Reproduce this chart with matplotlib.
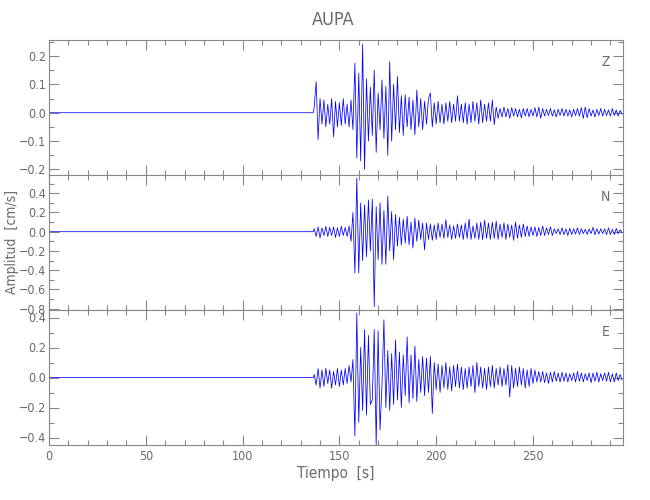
import numpy as np
import matplotlib.pyplot as plt
from matplotlib.ticker import MultipleLocator

# station / components
station = "AUPA"
components = ["Z", "N", "E"]

# quiet part before the first arrival (s)
t_onset = 137
t_end = 296

# amplitudes (cm/s) read at 1 s steps from 137 s to 296 s
z_amp = [
    0.02, 0.11, -0.095, 0.05, -0.04, 0.045, -0.05, 0.03, -0.04, 0.05,
    -0.086, 0.04, -0.05, 0.035, -0.045, 0.05, -0.04, 0.03, -0.05, 0.045,
    -0.06, 0.175, -0.16, 0.14, -0.17, 0.242, -0.2, 0.12, -0.1, 0.09,
    -0.08, 0.15, -0.14, 0.07, -0.06, 0.116, -0.09, 0.093, -0.15, 0.18,
    -0.1, 0.1, -0.06, 0.128, -0.07, 0.06, -0.08, 0.064, -0.05, 0.055,
    -0.06, 0.045, -0.078, 0.08, -0.05, 0.05, -0.06, 0.04, -0.04, 0.05,
    0.07, -0.05, 0.035, -0.04, 0.04, -0.035, 0.03, -0.04, 0.035, -0.03,
    0.04, -0.035, 0.03, -0.03, 0.06, -0.03, 0.03, -0.035, 0.035, -0.04,
    0.03, -0.035, 0.04, -0.03, 0.035, -0.04, 0.045, -0.035, 0.03, -0.03,
    0.035, -0.03, 0.045, -0.042, 0.02, -0.02, 0.015, -0.015, 0.02, -0.015,
    0.015, -0.02, 0.018, -0.012, 0.015, -0.015, 0.012, -0.018, 0.015, -0.012,
    0.015, -0.015, 0.012, -0.012, 0.018, -0.015, 0.02, -0.02, 0.015, -0.012,
    0.012, -0.01, 0.015, -0.012, 0.01, -0.015, 0.012, -0.01, 0.015, -0.012,
    0.012, -0.012, 0.01, -0.015, 0.012, -0.01, 0.015, -0.012, 0.018, -0.02,
    0.02, -0.018, 0.015, -0.012, 0.01, -0.015, 0.012, -0.01, 0.015, -0.012,
    0.012, -0.01, 0.01, -0.012, 0.015, -0.01, 0.01, -0.012, 0.008, -0.005,
]
n_amp = [
    0.03, -0.05, 0.05, -0.066, 0.04, -0.04, 0.056, -0.05, 0.045, -0.04,
    0.05, -0.06, 0.04, -0.05, 0.056, -0.04, 0.045, -0.05, 0.06, -0.1,
    0.2, -0.43, 0.56, -0.43, 0.3, -0.3, 0.28, -0.26, 0.33, -0.2,
    0.34, -0.78, 0.26, -0.29, 0.3, -0.34, 0.22, -0.34, 0.37, -0.2,
    0.21, -0.29, 0.18, -0.15, 0.15, -0.14, 0.13, -0.12, 0.16, -0.135,
    0.1, -0.17, 0.14, -0.1, 0.12, -0.08, 0.09, -0.19, 0.09, -0.08,
    0.08, -0.09, 0.07, -0.08, 0.09, -0.06, 0.08, -0.07, 0.125, -0.06,
    0.07, -0.08, 0.06, -0.07, 0.08, -0.06, 0.07, -0.08, 0.09, -0.07,
    0.13, -0.08, 0.06, -0.07, 0.09, -0.08, 0.1, -0.083, 0.12, -0.07,
    0.09, -0.08, 0.1, -0.07, 0.11, -0.08, 0.08, -0.06, 0.09, -0.08,
    0.08, -0.06, 0.07, -0.09, 0.1, -0.07, 0.07, -0.06, 0.08, -0.05,
    0.06, -0.05, 0.05, -0.04, 0.05, -0.05, 0.045, -0.04, 0.06, -0.04,
    0.04, -0.03, 0.05, -0.04, 0.03, -0.02, 0.03, -0.03, 0.04, -0.03,
    0.03, -0.04, 0.035, -0.03, 0.03, -0.025, 0.04, -0.03, 0.03, -0.02,
    0.025, -0.03, 0.03, -0.02, 0.045, -0.03, 0.03, -0.025, 0.03, -0.02,
    0.03, -0.03, 0.04, -0.03, 0.025, -0.03, 0.035, -0.02, 0.02, -0.01,
]
e_amp = [
    0.02, -0.05, 0.06, -0.07, 0.05, -0.06, 0.062, -0.04, 0.05, -0.071,
    0.04, -0.05, 0.06, -0.06, 0.05, -0.05, 0.06, -0.04, 0.08, -0.03,
    0.12, -0.39, 0.43, -0.3, 0.2, -0.22, 0.32, -0.25, 0.28, -0.18,
    -0.15, 0.32, -0.45, 0.31, -0.35, -0.05, 0.385, -0.2, 0.18, -0.22,
    0.16, -0.18, 0.25, -0.15, 0.17, -0.2, 0.15, -0.12, 0.27, -0.17,
    0.15, -0.14, 0.21, -0.16, 0.12, -0.1, 0.14, -0.12, 0.13, -0.1,
    0.14, -0.24, 0.1, -0.08, 0.09, -0.1, 0.08, -0.07, 0.1, -0.08,
    0.07, -0.09, 0.08, -0.06, 0.09, -0.07, 0.07, -0.08, 0.06, -0.07,
    0.07, -0.06, 0.08, -0.1, 0.1, -0.06, 0.07, -0.07, 0.06, -0.08,
    0.07, -0.06, 0.08, -0.07, 0.06, -0.05, 0.07, -0.06, 0.06, -0.05,
    0.085, -0.13, 0.08, -0.07, 0.06, -0.06, 0.07, -0.05, 0.06, -0.07,
    0.05, -0.06, 0.06, -0.04, 0.05, -0.03, 0.04, -0.03, 0.04, -0.035,
    0.03, -0.04, 0.035, -0.03, 0.04, -0.025, 0.03, -0.03, 0.035, -0.025,
    0.03, -0.03, 0.025, -0.02, 0.03, -0.03, 0.04, -0.025, 0.03, -0.03,
    0.025, -0.02, 0.03, -0.035, 0.03, -0.025, 0.035, -0.03, 0.025, -0.02,
    0.03, -0.025, 0.035, -0.03, 0.025, -0.03, 0.03, -0.02, 0.02, -0.015,
]

ylims = [(-0.22, 0.257), (-0.815, 0.59), (-0.45, 0.45)]
ymajor = [0.1, 0.2, 0.2]
yminor = [0.05, 0.1, 0.1]

gray = "#6a6a6a"
plt.rcParams["font.stretch"] = "condensed"

t_active = np.arange(t_onset, t_end + 1)
traces = [z_amp, n_amp, e_amp]

fig = plt.figure(figsize=(6.5, 5), dpi=100)
left, width, height = 49 / 650, 574 / 650, 135 / 500
bottoms = [1 - 175 / 500, 1 - 310 / 500, 1 - 445 / 500]

axes = []
for i, amp in enumerate(traces):
    ax = fig.add_axes([left, bottoms[i], width, height])
    # flat record before the onset, then the read-off samples
    t = np.concatenate([[0.0, t_onset - 0.5], t_active])
    y = np.concatenate([[0.0, 0.0], amp])
    ax.plot(t, y, color="#0000ff", lw=0.55)
    ax.set_xlim(0, 296.5)
    ax.set_ylim(*ylims[i])
    ax.xaxis.set_major_locator(MultipleLocator(50))
    ax.xaxis.set_minor_locator(MultipleLocator(10))
    ax.yaxis.set_major_locator(MultipleLocator(ymajor[i]))
    ax.yaxis.set_minor_locator(MultipleLocator(yminor[i]))
    ax.tick_params(which="both", direction="in", top=True, right=True,
                   colors="#888888", labelsize=9, labelcolor=gray, width=0.8)
    ax.tick_params(which="major", length=7)
    ax.tick_params(which="minor", length=3.5)
    ax.tick_params(axis="y", pad=2)
    for s in ax.spines.values():
        s.set_color("#888888")
        s.set_linewidth(0.8)
    if i < 2:
        ax.tick_params(labelbottom=False)
    ax.text(0.97, 0.84, components[i], transform=ax.transAxes, color=gray,
            fontsize=10, ha="center", va="center")
    axes.append(ax)

axes[2].set_xlabel("Tiempo  [s]", color=gray, fontsize=11, labelpad=2)
fig.text(12 / 650, 1 - 242 / 500, "Amplitud  [cm/s]", color=gray, fontsize=10,
         rotation=90, ha="center", va="center")
fig.text(333 / 650, 1 - 20 / 500, station, color=gray, fontsize=13,
         ha="center", va="center")

fig.savefig("out.png", dpi=100)
